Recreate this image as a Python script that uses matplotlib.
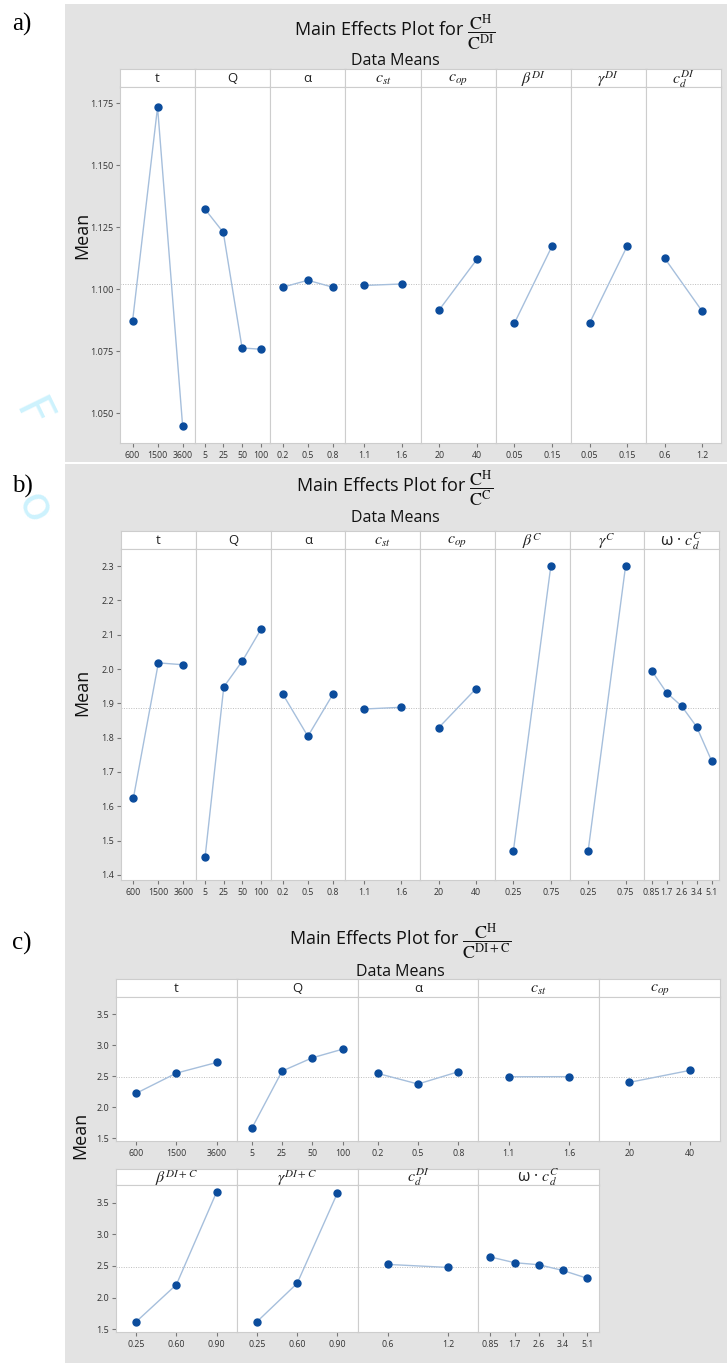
import matplotlib
matplotlib.use('Agg')
import numpy as np
import matplotlib.pyplot as plt
from matplotlib.patches import Rectangle

plt.rcParams['font.family'] = ['Open Sans', 'DejaVu Sans']
plt.rcParams['mathtext.fontset'] = 'stix'

# ---- data ----
factors_a = ['t', 'Q', 'α', r'$c_{st}$', r'$c_{op}$', r'$\beta^{DI}$', r'$\gamma^{DI}$', r'$c_d^{DI}$']
levels_a = [['600', '1500', '3600'], ['5', '25', '50', '100'], ['0.2', '0.5', '0.8'], ['1.1', '1.6'],
            ['20', '40'], ['0.05', '0.15'], ['0.05', '0.15'], ['0.6', '1.2']]
means_a = [[1.087, 1.1734, 1.045], [1.1325, 1.1229, 1.0763, 1.0758], [1.1008, 1.1036, 1.1008],
           [1.1015, 1.1021], [1.0917, 1.112], [1.0863, 1.1173], [1.0863, 1.1173], [1.1125, 1.0911]]
grand_a = 1.1019

factors_b = ['t', 'Q', 'α', r'$c_{st}$', r'$c_{op}$', r'$\beta^{C}$', r'$\gamma^{C}$', r'ω · $c_d^{C}$']
levels_b = [['600', '1500', '3600'], ['5', '25', '50', '100'], ['0.2', '0.5', '0.8'], ['1.1', '1.6'],
            ['20', '40'], ['0.25', '0.75'], ['0.25', '0.75'], ['0.85', '1.7', '2.6', '3.4', '5.1']]
means_b = [[1.625, 2.018, 2.0125], [1.452, 1.948, 2.024, 2.117], [1.926, 1.804, 1.926],
           [1.8835, 1.8885], [1.829, 1.943], [1.471, 2.300], [1.471, 2.300],
           [1.995, 1.931, 1.892, 1.832, 1.733]]
grand_b = 1.887

factors_c = ['t', 'Q', 'α', r'$c_{st}$', r'$c_{op}$',
             r'$\beta^{DI+C}$', r'$\gamma^{DI+C}$', r'$c_d^{DI}$', r'ω · $c_d^{C}$']
levels_c = [['600', '1500', '3600'], ['5', '25', '50', '100'], ['0.2', '0.5', '0.8'], ['1.1', '1.6'],
            ['20', '40'], ['0.25', '0.60', '0.90'], ['0.25', '0.60', '0.90'], ['0.6', '1.2'],
            ['0.85', '1.7', '2.6', '3.4', '5.1']]
means_c = [[2.225, 2.551, 2.723], [1.662, 2.584, 2.798, 2.937], [2.546, 2.375, 2.573],
           [2.492, 2.494], [2.402, 2.595], [1.617, 2.204, 3.671], [1.617, 2.225, 3.655],
           [2.524, 2.476], [2.641, 2.551, 2.519, 2.428, 2.305]]
grand_c = 2.49

W, H = 727, 1363
BG = '#e3e3e3'
LINE = '#a6bfdc'
DOT = '#0b4c9c'
EDGE = '#cdcdcd'

fig = plt.figure(figsize=(W / 100, H / 100), dpi=100)


def box(x0, y0, x1, y1):
    return [x0 / W, 1 - y1 / H, (x1 - x0) / W, (y1 - y0) / H]


def px(x, y):
    return x / W, 1 - y / H


# faint watermark letters in the left margin
fig.text(*px(31, 415), 'F', rotation=-64, ha='center', va='center',
         fontsize=34, family='DejaVu Sans', color='#cdf2fd', zorder=-3)
fig.text(*px(33, 508), 'o', rotation=-64, ha='center', va='center',
         fontsize=34, family='DejaVu Sans', color='#cdf2fd', zorder=-3)

for (x0, y0, x1, y1) in [(65, 4, 727, 462), (65, 464, 727, 1363)]:
    fig.patches.append(Rectangle(px(x0, y1), (x1 - x0) / W, (y1 - y0) / H,
                                 transform=fig.transFigure, facecolor=BG,
                                 edgecolor='none', zorder=-1))


def header(title, cx, ty, dy, tag, tag_y):
    fig.text(*px(cx, ty), title, ha='center', va='center', fontsize=13, color='#111111')
    fig.text(*px(cx, ty + dy), 'Data Means', ha='center', va='center', fontsize=11.5, color='#111111')
    fig.text(*px(12, tag_y), tag, ha='left', va='center', fontsize=18,
             family='Liberation Serif', color='black')


def draw_row(factors, levels, means, grand, edges, s_top, s_bot, p_bot, ylim, yticks, yfmt):
    for i in range(len(factors)):
        x0, x1 = edges[i], edges[i + 1]
        sax = fig.add_axes(box(x0, s_top, x1, s_bot))
        sax.set_facecolor('white')
        sax.set_xticks([])
        sax.set_yticks([])
        for sp in sax.spines.values():
            sp.set_color(EDGE)
            sp.set_linewidth(0.8)
        fs = 11.5 if '$' in factors[i] else 9.5
        sax.text(0.5, 0.45, factors[i], ha='center', va='center', fontsize=fs,
                 color='#222222', transform=sax.transAxes)

        ax = fig.add_axes(box(x0, s_bot, x1, p_bot))
        ax.set_facecolor('white')
        pos = np.arange(1, len(levels[i]) + 1)
        ax.axhline(grand, color='#bdbdbd', lw=0.7, ls=(0, (1, 1.5)), zorder=1)
        ax.plot(pos, means[i], color=LINE, lw=1.0, marker='o', markersize=5,
                markerfacecolor=DOT, markeredgecolor=DOT, zorder=3)
        ax.set_xlim(0.5, len(levels[i]) + 0.5)
        ax.set_ylim(*ylim)
        ax.set_xticks(pos, levels[i])
        ax.set_yticks(yticks)
        ax.tick_params(axis='x', length=3, pad=2.5, labelsize=6.3, colors='#777777', labelcolor='#333333')
        if i == 0:
            ax.set_yticklabels([yfmt % v for v in yticks])
            ax.tick_params(axis='y', length=3, pad=2, labelsize=6.5, colors='#777777', labelcolor='#333333')
        else:
            ax.tick_params(axis='y', left=False, labelleft=False)
        for sp in ax.spines.values():
            sp.set_color(EDGE)
            sp.set_linewidth(0.8)


# ---- a) ----
header(r'Main Effects Plot for $\dfrac{\mathrm{C}^{\mathrm{H}}}{\mathrm{C}^{\mathrm{DI}}}$', 395, 33, 28, 'a)', 24)
draw_row(factors_a, levels_a, means_a, grand_a, np.linspace(120, 721, 9), 69, 87, 443,
         (1.038, 1.1815), [1.050, 1.075, 1.100, 1.125, 1.150, 1.175], '%.3f')
fig.text(*px(82, 235), 'Mean', rotation=90, ha='center', va='center', fontsize=13, color='#111111')

# ---- b) ----
header(r'Main Effects Plot for $\dfrac{\mathrm{C}^{\mathrm{H}}}{\mathrm{C}^{\mathrm{C}}}$', 395, 489, 29, 'b)', 486)
draw_row(factors_b, levels_b, means_b, grand_b, np.linspace(121, 719, 9), 531, 549, 880,
         (1.385, 2.35), [1.4, 1.5, 1.6, 1.7, 1.8, 1.9, 2.0, 2.1, 2.2, 2.3], '%.1f')
fig.text(*px(82, 692), 'Mean', rotation=90, ha='center', va='center', fontsize=13, color='#111111')

# ---- c) ----
header(r'Main Effects Plot for $\dfrac{\mathrm{C}^{\mathrm{H}}}{\mathrm{C}^{\mathrm{DI+C}}}$', 400, 942, 30, 'c)', 943)
edges_c = np.linspace(116, 720, 6)
draw_row(factors_c[:5], levels_c[:5], means_c[:5], grand_c, edges_c, 979, 997, 1141,
         (1.455, 3.78), [1.5, 2.0, 2.5, 3.0, 3.5], '%.1f')
draw_row(factors_c[5:], levels_c[5:], means_c[5:], grand_c, edges_c[:5], 1169, 1185, 1332,
         (1.455, 3.78), [1.5, 2.0, 2.5, 3.0, 3.5], '%.1f')
fig.text(*px(80, 1135), 'Mean', rotation=90, ha='center', va='center', fontsize=13, color='#111111')

fig.savefig('out.png', dpi=100, facecolor='white')
